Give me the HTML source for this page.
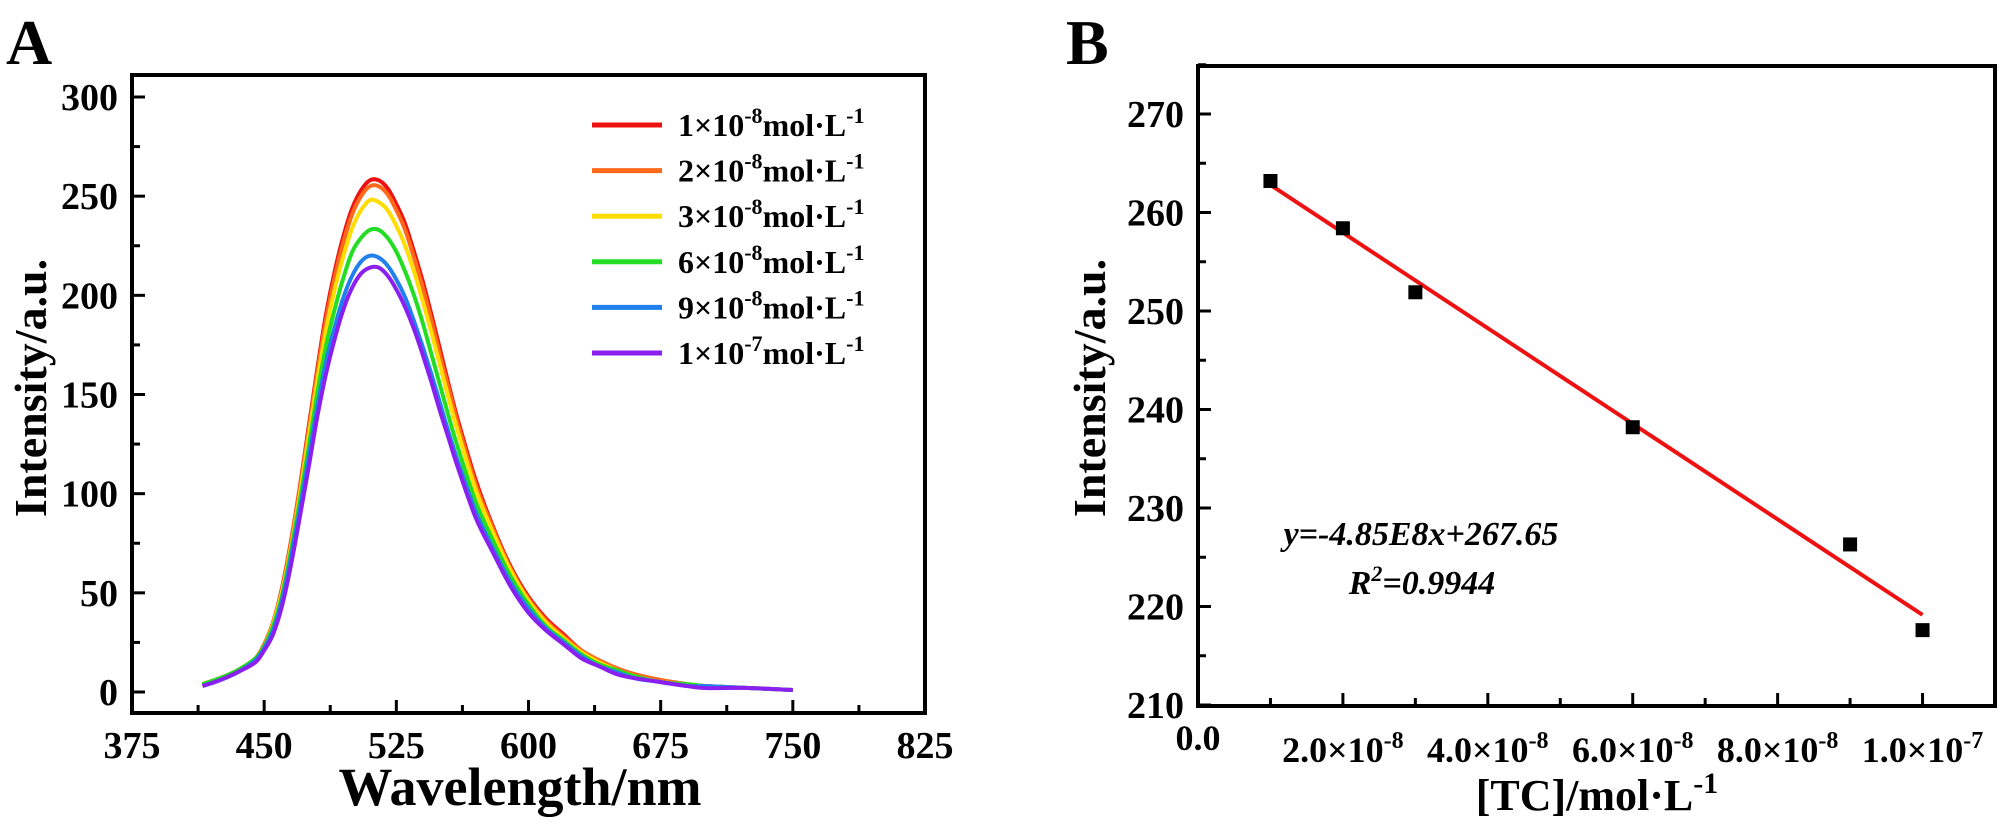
<!DOCTYPE html>
<html><head><meta charset="utf-8"><style>
html,body{margin:0;padding:0;background:#fff;}
svg{display:block;font-family:"Liberation Serif",serif;font-weight:bold;}
</style></head><body>
<svg id="fig" width="2000" height="822" viewBox="0 0 2000 822" xmlns="http://www.w3.org/2000/svg">
<text x="6" y="64" font-size="64">A</text>
<text x="1066" y="64" font-size="64">B</text>
<g id="chartA"></g>
<g id="chartB"></g>
</svg>
<script>
const NS="http://www.w3.org/2000/svg";
// ---- Chart A data ----
const wavelengths=[415,425,435,445,450,455,460,465,470,475,480,485,490,495,500,505,510,515,520,525,530,535,540,545,550,555,560,570,580,590,600,610,620,630,640,650,660,675,690,700,725,750];
const seriesRed=[4,7,11,17,24,35,52,75,102,132,162,190,212,230,244,253,258,258,254,246,236,222,207,190,172,154,137,107,83,63,48,37,29,21,16,12,9,6,4,3,2,1];
const seriesOrange=[4,7,11,17,24,35,51,74,101,130,160,187,209,227,241,250,255,255,251,243,233,219,204,187,169,152,135,105,82,62,47,36,28,21,16,12,9,6,4,3,2,1];
const seriesYellow=[4,7,11,17,23,34,50,72,98,127,156,182,203,220,234,243,248,247,243,235,225,212,197,181,164,147,131,102,80,61,46,35,27,20,15,11,8,5,4,3,2,1];
const seriesGreen=[4,7,11,17,23,33,48,70,95,122,150,174,193,209,222,229,233,233,229,222,212,200,186,170,154,138,123,96,76,58,44,33,26,19,14,11,8,5,4,3,2,1];
const seriesBlue=[3,6,10,16,22,31,46,67,91,117,143,166,184,199,210,217,220,219,215,208,199,187,174,160,145,130,116,91,72,55,42,32,25,18,13,10,7,5,3,3,2,1];
const seriesPurple=[3,6,10,15,21,29,43,63,87,112,138,160,178,193,204,211,214,214,210,203,194,183,170,156,141,127,113,88,70,53,40,31,24,17,13,9,7,5,3,2,2,1];
const seriesA=[seriesRed,seriesOrange,seriesYellow,seriesGreen,seriesBlue,seriesPurple];
const colorsA=["#ee1111","#ff6a1a","#ffdd00","#22dd22","#2080ee","#8b1ff0"];
const legendLabels=["1×10","2×10","3×10","6×10","9×10","1×10"];
const legendExp=["-8","-8","-8","-8","-8","-7"];
const xTicksA=[375,450,525,600,675,750,825];
const yTicksA=[0,50,100,150,200,250,300];
// ---- Chart B data ----
const concB=[1e-8,2e-8,3e-8,6e-8,9e-8,1e-7];
const intensB=[263.2,258.4,251.9,238.2,226.3,217.6];
const fitSlope=-4.85e8, fitIntercept=267.65;
const xTicksB=[0,2e-8,4e-8,6e-8,8e-8,1e-7];
const xTickLabelsB=["0.0","2.0×10","4.0×10","6.0×10","8.0×10","1.0×10"];
const xTickExpB=["","-8","-8","-8","-8","-7"];
const yTicksB=[210,220,230,240,250,260,270];

function el(tag,attrs,parent,txt){const e=document.createElementNS(NS,tag);for(const k in attrs)e.setAttribute(k,attrs[k]);if(txt!==undefined)e.textContent=txt;parent.appendChild(e);return e;}
function smoothPath(pts){
  let d='M'+pts[0][0].toFixed(1)+','+pts[0][1].toFixed(1);
  for(let i=0;i<pts.length-1;i++){
    const p0=pts[Math.max(0,i-1)],p1=pts[i],p2=pts[i+1],p3=pts[Math.min(pts.length-1,i+2)];
    const c1x=p1[0]+(p2[0]-p0[0])/6,c1y=p1[1]+(p2[1]-p0[1])/6;
    const c2x=p2[0]-(p3[0]-p1[0])/6,c2y=p2[1]-(p3[1]-p1[1])/6;
    d+=' C'+c1x.toFixed(1)+','+c1y.toFixed(1)+' '+c2x.toFixed(1)+','+c2y.toFixed(1)+' '+p2[0].toFixed(1)+','+p2[1].toFixed(1);
  }
  return d;
}

// ---- Chart A ----
(function(){
const g=document.getElementById('chartA');
const L=132,R=925,T=75,B=713;
const xA=v=>L+(v-375)/(825-375)*(R-L);
const yA=v=>692-(v)*(692-97)/300;
for(let s=0;s<seriesA.length;s++){
  const pts=wavelengths.map((w,i)=>[xA(w),yA(seriesA[s][i])]);
  const p=el('path',{d:smoothPath(pts),fill:'none',stroke:colorsA[s],'stroke-width':4,'stroke-linejoin':'round'},g);
  
  
}
const fr=el('rect',{x:L,y:T,width:R-L,height:B-T,fill:'none',stroke:'#000','stroke-width':4},g);


for(let v=375;v<=825;v+=37.5){
  const major=((v-375)%75)===0;
  el('line',{x1:xA(v),x2:xA(v),y1:B,y2:B-(major?13:8),stroke:'#000','stroke-width':3},g);
}
xTicksA.forEach(v=>{
  const t=el('text',{x:xA(v),y:758,'font-size':38,'text-anchor':'middle'},g,String(v));
  
  
});
for(let v=0;v<=300;v+=25){
  const major=(v%50)===0;
  el('line',{x1:L,x2:L+(major?13:8),y1:yA(v),y2:yA(v),stroke:'#000','stroke-width':3},g);
}
yTicksA.forEach(v=>{
  const t=el('text',{x:118,y:yA(v)+13,'font-size':38,'text-anchor':'end'},g,String(v));
  
  
});
const xt=el('text',{x:520,y:805,'font-size':54,'text-anchor':'middle'},g,'Wavelength/nm');


const yt=el('text',{x:0,y:0,'font-size':46,'text-anchor':'middle',transform:'translate(46,388) rotate(-90)'},g,'Intensity/a.u.');


for(let i=0;i<legendLabels.length;i++){
  const y=125+i*45.6;
  const ln=el('line',{x1:592,x2:662,y1:y,y2:y,stroke:colorsA[i],'stroke-width':5},g);
  
  
  const t=el('text',{x:678,y:y+11,'font-size':32},g);
  
  
  el('tspan',{},t,legendLabels[i]);
  el('tspan',{dy:-13,'font-size':22},t,legendExp[i]);
  el('tspan',{dy:13},t,'mol·L');
  el('tspan',{dy:-13,'font-size':22},t,'-1');
}
})();

// ---- Chart B ----
(function(){
const g=document.getElementById('chartB');
const L=1198,R=1995,T=66,B=706;
const xB=v=>L+v/1.1e-7*(R-L);
const yB=v=>705-(v-210)*(705-114)/60;
const ln=el('line',{x1:xB(concB[0]),y1:yB(fitSlope*concB[0]+fitIntercept),x2:xB(concB[concB.length-1]),y2:yB(fitSlope*concB[concB.length-1]+fitIntercept),stroke:'#ee1111','stroke-width':4},g);


concB.forEach((c,i)=>{
  const r=el('rect',{x:xB(c)-7,y:yB(intensB[i])-7,width:14,height:14,fill:'#000'},g);
  
  
});
const fr=el('rect',{x:L,y:T,width:R-L,height:B-T,fill:'none',stroke:'#000','stroke-width':4},g);


for(let k=0;k<=11;k++){
  const v=k*1e-8;const major=(k%2)===0;
  el('line',{x1:xB(v),x2:xB(v),y1:B,y2:B-(major?13:8),stroke:'#000','stroke-width':3},g);
}
xTicksB.forEach((v,i)=>{
  const t=el('text',{x:xB(v),y:i===0?750:762,'font-size':36,'text-anchor':'middle'},g);
  
  
  el('tspan',{},t,xTickLabelsB[i]);
  if(xTickExpB[i]) el('tspan',{dy:-14,'font-size':24},t,xTickExpB[i]);
});
for(let v=210;v<=275;v+=5){
  const major=(v%10)===0;
  el('line',{x1:L,x2:L+(major?13:8),y1:yB(v),y2:yB(v),stroke:'#000','stroke-width':3},g);
}
yTicksB.forEach(v=>{
  const t=el('text',{x:1184,y:yB(v)+13,'font-size':38,'text-anchor':'end'},g,String(v));
  
  
});
const xt=el('text',{x:1597,y:810,'font-size':44,'text-anchor':'middle'},g);


el('tspan',{},xt,'[TC]/mol·L');
el('tspan',{dy:-17,'font-size':30},xt,'-1');
const yt=el('text',{x:0,y:0,'font-size':46,'text-anchor':'middle',transform:'translate(1105,388) rotate(-90)'},g,'Intensity/a.u.');


const eq=el('text',{x:1421,y:545,'font-size':34,'font-style':'italic','text-anchor':'middle'},g,'y=-4.85E8x+267.65');


const r2=el('text',{x:1422,y:594,'font-size':34,'font-style':'italic','text-anchor':'middle'},g);


el('tspan',{},r2,'R');
el('tspan',{dy:-13,'font-size':22},r2,'2');
el('tspan',{dy:13},r2,'=0.9944');
})();
</script>
</body></html>
